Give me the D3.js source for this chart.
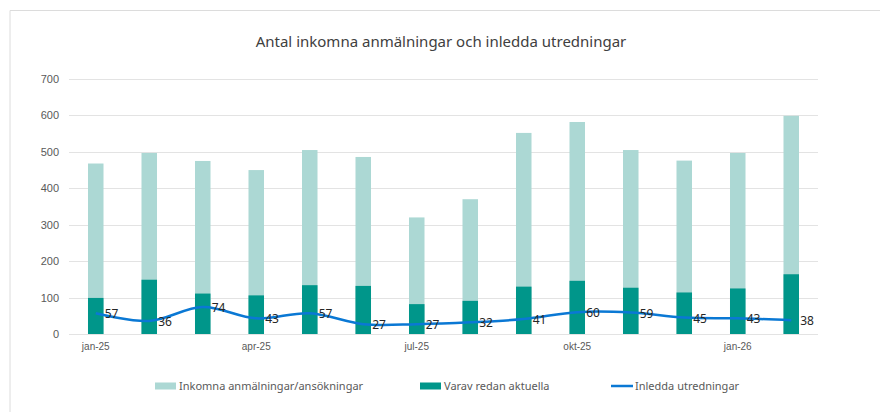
<!DOCTYPE html>
<html>
<head>
<meta charset="utf-8">
<script src="https://cdn.jsdelivr.net/npm/d3@7"></script>
<style>
  body { margin: 0; background: #fff; }
  svg { display: block; font-family: "Noto Sans", sans-serif; }
</style>
</head>
<body>
<svg id="chart"></svg>
<script>
// data
const months = ["jan-25", "feb-25", "mar-25", "apr-25", "maj-25", "jun-25", "jul-25",
    "aug-25", "sep-25", "okt-25", "nov-25", "dec-25", "jan-26", "feb-26"];
const inkomna = [468, 497, 475, 450, 505, 486, 320, 370, 552, 582, 505, 476, 497, 599];
const redanAktuella = [99, 149, 111, 106, 134, 132, 82, 91, 130, 146, 127, 114, 125, 164];
const inledda = [57, 36, 74, 43, 57, 27, 27, 32, 41, 60, 59, 45, 43, 38];
const shownMonths = ["jan-25", "apr-25", "jul-25", "okt-25", "jan-26"];
const yTicks = [0, 100, 200, 300, 400, 500, 600, 700];

const width = 880, height = 412;
const plotLeft = 69, plotRight = 818, plotTop = 79, plotBottom = 334;

const svg = d3.select("#chart")
    .attr("width", width)
    .attr("height", height);

// frame around the chart
svg.append("path")
    .attr("d", `M10,412 L10,10.5 L880,10.5`)
    .attr("fill", "none")
    .attr("stroke", "#dcdcdc")
    .attr("stroke-width", 1);

// title
svg.append("text")
    .attr("x", 441)
    .attr("y", 47)
    .attr("text-anchor", "middle")
    .style("font-size", "15px")
    .style("fill", "#404040")
    .text("Antal inkomna anmälningar och inledda utredningar");

// scales
const x = d3.scaleBand()
    .domain(months)
    .range([plotLeft, plotRight])
    .paddingInner(0.71)
    .paddingOuter(0.355);

const y = d3.scaleLinear()
    .domain([0, 700])
    .range([plotBottom, plotTop]);

// gridlines
svg.append("g")
    .selectAll("line")
    .data(yTicks)
    .enter()
    .append("line")
    .attr("x1", plotLeft)
    .attr("x2", plotRight)
    .attr("y1", d => Math.round(y(d)) + 0.5)
    .attr("y2", d => Math.round(y(d)) + 0.5)
    .attr("stroke", "#e3e3e3")
    .attr("stroke-width", 1.2);

// y axis
const axisY = d3.axisLeft(y).tickValues(yTicks).tickSize(0).tickPadding(10);
svg.append("g")
    .attr("transform", `translate(${plotLeft}, 0)`)
    .call(axisY)
    .call(g => g.select(".domain").remove())
    .selectAll("text")
    .style("font-size", "11px")
    .style("fill", "#595959");

// x axis
const axisX = d3.axisBottom(x)
    .tickValues(shownMonths)
    .tickSize(0)
    .tickPadding(9);
svg.append("g")
    .attr("transform", `translate(0, ${plotBottom})`)
    .call(axisX)
    .call(g => g.select(".domain").remove())
    .selectAll("text")
    .style("font-size", "10px")
    .style("fill", "#595959");

// bars
svg.append("g")
    .selectAll("rect")
    .data(months)
    .enter()
    .append("rect")
    .attr("x", d => x(d))
    .attr("width", x.bandwidth())
    .attr("y", (d, i) => y(inkomna[i]))
    .attr("height", (d, i) => y(0) - y(inkomna[i]))
    .attr("fill", "#acd8d4");

svg.append("g")
    .selectAll("rect")
    .data(months)
    .enter()
    .append("rect")
    .attr("x", d => x(d))
    .attr("width", x.bandwidth())
    .attr("y", (d, i) => y(redanAktuella[i]))
    .attr("height", (d, i) => y(0) - y(redanAktuella[i]))
    .attr("fill", "#00968a");

// smoothed line
const line = d3.line()
    .x((d, i) => x(months[i]) + x.bandwidth() / 2)
    .y(d => y(d))
    .curve(d3.curveCatmullRom.alpha(0.5));

svg.append("path")
    .datum(inledda)
    .attr("d", line)
    .attr("fill", "none")
    .attr("stroke", "#0a78d4")
    .attr("stroke-width", 2.5);

// line labels
svg.append("g")
    .selectAll("text")
    .data(inledda)
    .enter()
    .append("text")
    .attr("x", (d, i) => x(months[i]) + x.bandwidth() / 2 + 9)
    .attr("y", d => y(d) + 5)
    .style("font-size", "12px")
    .style("fill", "#262626")
    .text(d => d);

// legend
const legendItems = [
    {label: "Inkomna anmälningar/ansökningar", type: "rect", color: "#acd8d4", x: 155},
    {label: "Varav redan aktuella", type: "rect", color: "#00968a", x: 420},
    {label: "Inledda utredningar", type: "line", color: "#0a78d4", x: 611}
];

const legend = svg.append("g");
legendItems.forEach(item => {
    const g = legend.append("g").attr("transform", `translate(${item.x}, 386)`);
    if (item.type === "rect") {
        g.append("rect")
            .attr("x", 0).attr("y", -3.5)
            .attr("width", 21).attr("height", 7)
            .attr("fill", item.color);
    } else {
        g.append("line")
            .attr("x1", 0).attr("x2", 22)
            .attr("y1", 0).attr("y2", 0)
            .attr("stroke", item.color)
            .attr("stroke-width", 2.5);
    }
    g.append("text")
        .attr("x", 24)
        .attr("y", 4)
        .style("font-size", "11px")
        .style("fill", "#595959")
        .text(item.label);
});
</script>
</body>
</html>
